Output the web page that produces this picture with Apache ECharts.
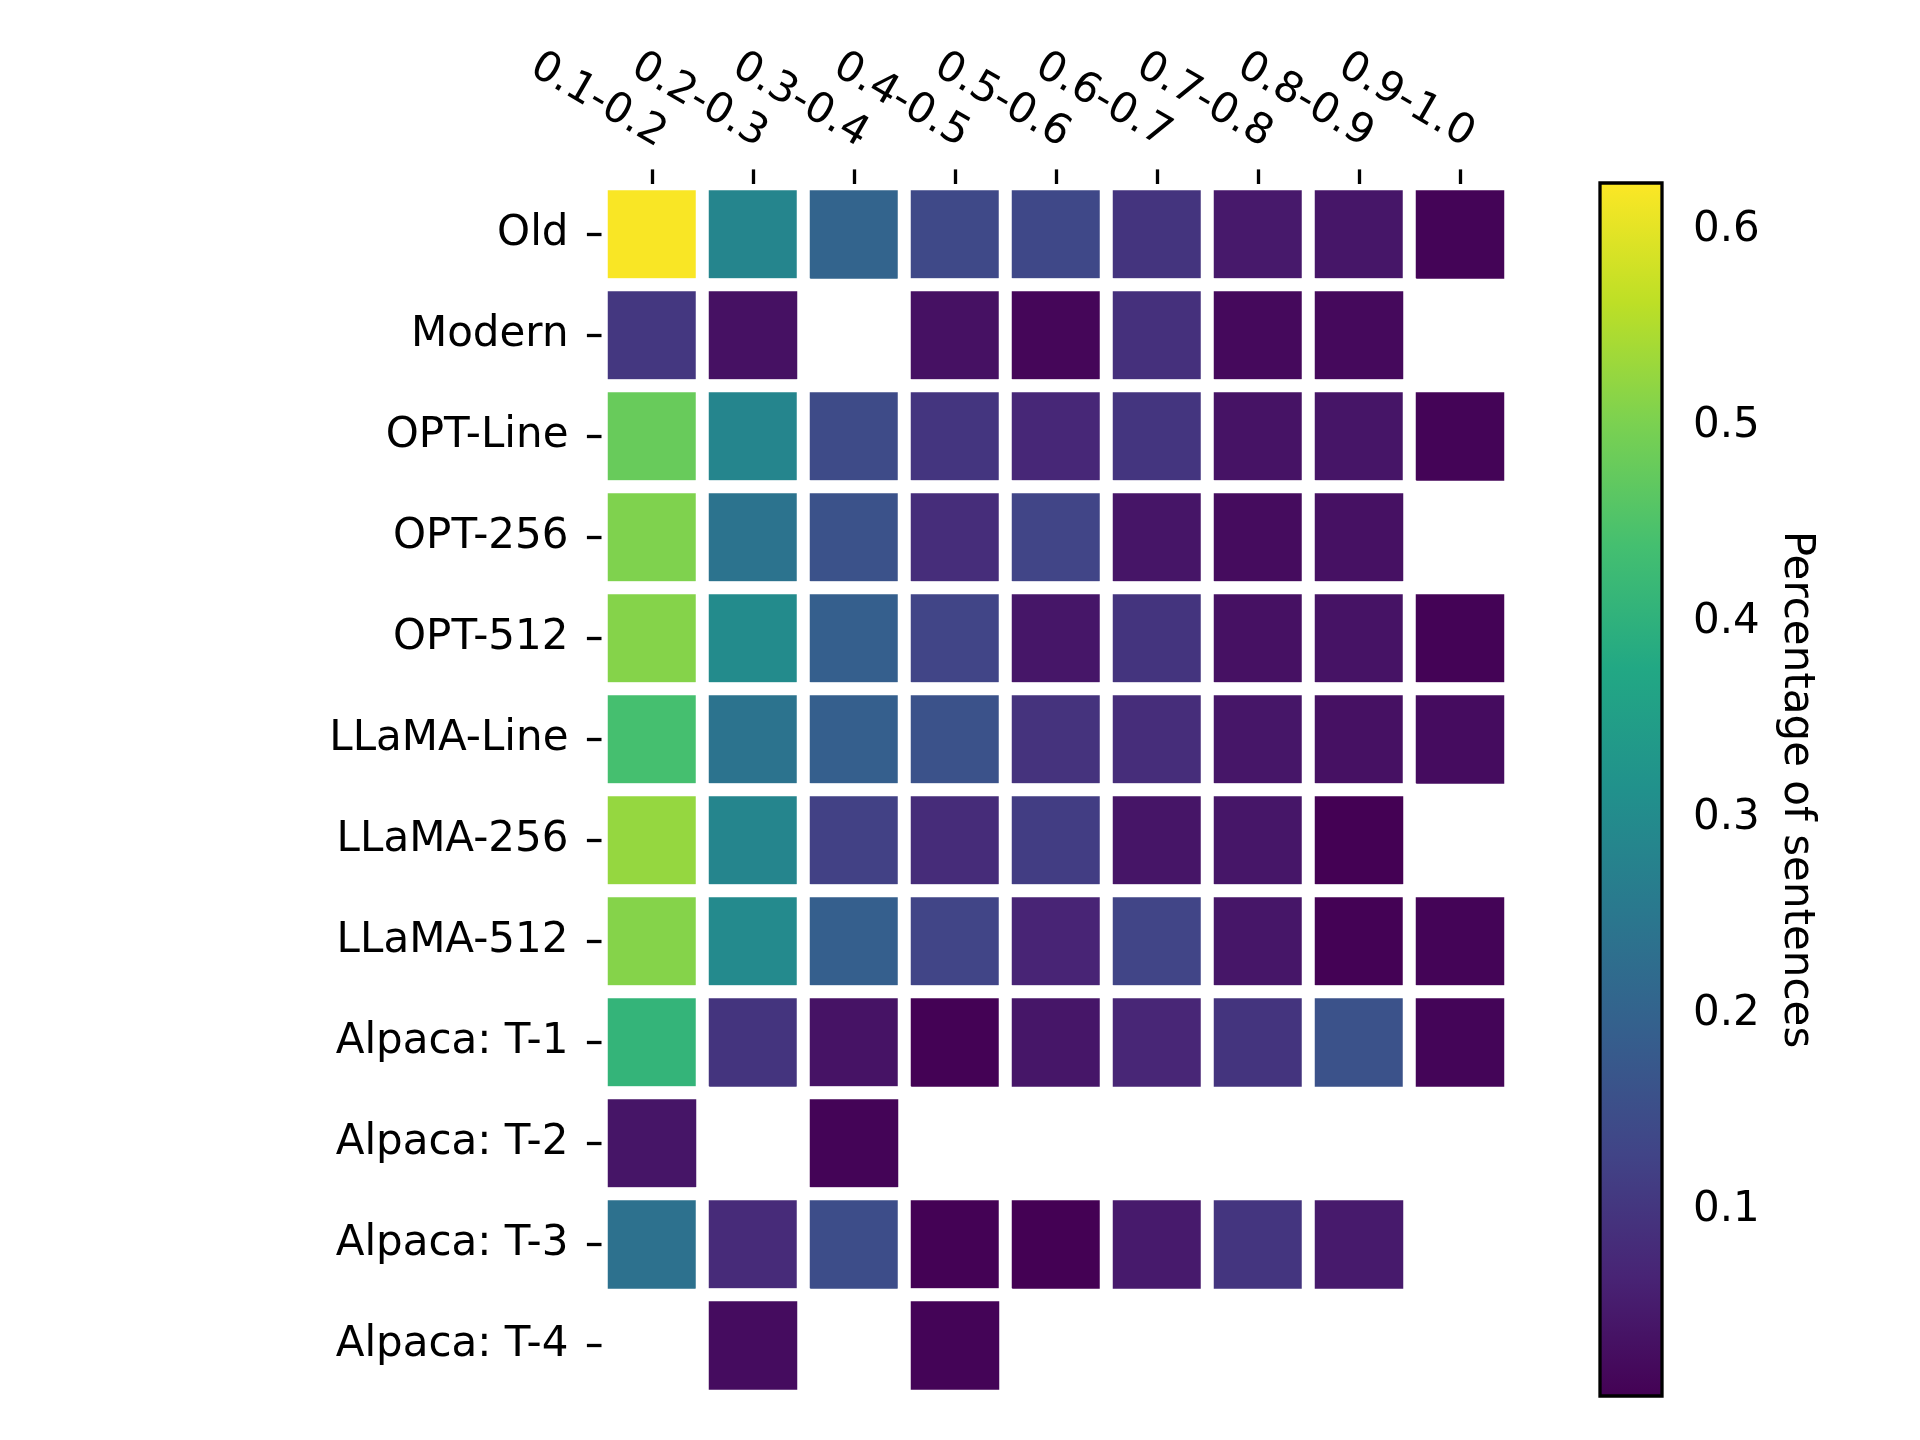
<!DOCTYPE html>
<html>
<head>
<meta charset="utf-8">
<script src="https://cdn.jsdelivr.net/npm/echarts@6/dist/echarts.min.js"></script>
<style>
  html, body { margin: 0; padding: 0; background: #fff; }
  #chart { width: 1920px; height: 1440px; }
</style>
</head>
<body>
<div id="chart"></div>
<script>
// bins along the top
var bins = ['0.1-0.2', '0.2-0.3', '0.3-0.4', '0.4-0.5', '0.5-0.6', '0.6-0.7', '0.7-0.8', '0.8-0.9', '0.9-1.0'];
// rows, top to bottom
var sources = ['Old', 'Modern', 'OPT-Line', 'OPT-256', 'OPT-512', 'LLaMA-Line', 'LLaMA-256', 'LLaMA-512',
    'Alpaca: T-1', 'Alpaca: T-2', 'Alpaca: T-3', 'Alpaca: T-4'];

// share of sentences per bin (null = empty cell)
var oldRow       = [0.620, 0.284, 0.203, 0.141, 0.138, 0.098, 0.048, 0.042, 0.010];
var modernRow    = [0.104, 0.033, null,  0.033, 0.014, 0.090, 0.020, 0.020, null];
var optLineRow   = [0.480, 0.284, 0.144, 0.100, 0.073, 0.100, 0.036, 0.040, 0.011];
var opt256Row    = [0.505, 0.240, 0.160, 0.085, 0.130, 0.040, 0.024, 0.033, null];
var opt512Row    = [0.510, 0.300, 0.190, 0.130, 0.042, 0.098, 0.033, 0.036, 0.008];
var llamaLineRow = [0.440, 0.240, 0.190, 0.160, 0.095, 0.085, 0.042, 0.033, 0.025];
var llama256Row  = [0.525, 0.284, 0.123, 0.082, 0.116, 0.040, 0.042, 0.005, null];
var llama512Row  = [0.510, 0.296, 0.190, 0.130, 0.067, 0.130, 0.042, 0.006, 0.010];
var alpacaT1Row  = [0.410, 0.098, 0.036, 0.007, 0.042, 0.070, 0.098, 0.160, 0.012];
var alpacaT2Row  = [0.040, null,  0.010, null,  null,  null,  null,  null,  null];
var alpacaT3Row  = [0.235, 0.080, 0.150, 0.006, 0.005, 0.050, 0.100, 0.050, null];
var alpacaT4Row  = [null,  0.025, null,  0.010, null,  null,  null,  null,  null];

var rows = [oldRow, modernRow, optLineRow, opt256Row, opt512Row, llamaLineRow, llama256Row, llama512Row,
    alpacaT1Row, alpacaT2Row, alpacaT3Row, alpacaT4Row];

// colour scale range and colorbar ticks
var vmin = 0.005;
var vmax = 0.624;
var cbTicks = [0.1, 0.2, 0.3, 0.4, 0.5, 0.6];

var viridis = ['#440154', '#482475', '#414487', '#355f8d', '#2a788e', '#21918c',
    '#22a884', '#44bf70', '#7ad151', '#bddf26', '#fde725'];

var cells = [];
rows.forEach(function (row, j) {
    row.forEach(function (v, i) {
        if (v !== null) cells.push([i, j, v]);
    });
});

var font = 'DejaVu Sans';
var tickStyle = { color: '#000', width: 3.3 };

var chart = echarts.init(document.getElementById('chart'), null, { renderer: 'canvas' });

var option = {
    backgroundColor: '#fff',
    animation: false,
    textStyle: { fontFamily: font },
    grid: [
        { left: 601.5, top: 184, width: 909, height: 1212 },
        { left: 1600, top: 183, width: 62, height: 1213 }
    ],
    xAxis: [
        {
            type: 'category',
            gridIndex: 0,
            position: 'top',
            data: bins,
            axisLine: { show: false },
            axisTick: { show: true, alignWithLabel: true, length: 14.6, lineStyle: tickStyle },
            axisLabel: {
                rotate: 30, fontSize: 42, color: '#000', fontFamily: font,
                margin: 28, interval: 0, verticalAlign: 'bottom'
            },
            splitLine: { show: false }
        },
        {
            type: 'value',
            gridIndex: 1,
            min: 0,
            max: 1,
            show: false
        }
    ],
    yAxis: [
        {
            type: 'category',
            gridIndex: 0,
            inverse: true,
            data: sources,
            axisLine: { show: false },
            axisTick: { show: true, alignWithLabel: true, length: 14.6, lineStyle: tickStyle },
            axisLabel: { fontSize: 42, color: '#000', fontFamily: font, margin: 33, interval: 0 },
            splitLine: { show: false }
        },
        {
            type: 'value',
            gridIndex: 1,
            position: 'right',
            min: vmin,
            max: vmax,
            axisLine: { show: false },
            splitLine: { show: false },
            axisTick: { show: true, length: 14.6, lineStyle: tickStyle, customValues: cbTicks },
            axisLabel: {
                fontSize: 42, color: '#000', fontFamily: font, margin: 31,
                customValues: cbTicks,
                formatter: function (v) { return v.toFixed(1); }
            },
            name: 'Percentage of sentences',
            nameLocation: 'middle',
            nameRotate: -90,
            nameGap: 113,
            nameTextStyle: { fontSize: 42, color: '#000', fontFamily: font }
        }
    ],
    visualMap: {
        type: 'continuous',
        show: false,
        seriesIndex: 0,
        dimension: 2,
        min: vmin,
        max: vmax,
        inRange: { color: viridis }
    },
    series: [
        {
            type: 'heatmap',
            xAxisIndex: 0,
            yAxisIndex: 0,
            z: -1,
            data: cells,
            itemStyle: { borderColor: '#fff', borderWidth: 13 },
            emphasis: { disabled: true }
        },
        {
            // colorbar drawn on its own axis
            type: 'custom',
            xAxisIndex: 1,
            yAxisIndex: 1,
            clip: false,
            silent: true,
            data: [[0, vmin]],
            renderItem: function (params, api) {
                var p1 = api.coord([0, vmax]);
                var p2 = api.coord([1, vmin]);
                var stops = viridis.slice().reverse().map(function (c, k) {
                    return { offset: k / (viridis.length - 1), color: c };
                });
                return {
                    type: 'rect',
                    shape: { x: p1[0], y: p1[1], width: p2[0] - p1[0], height: p2[1] - p1[1] },
                    style: {
                        fill: new echarts.graphic.LinearGradient(0, 0, 0, 1, stops),
                        stroke: '#000',
                        lineWidth: 3.3
                    }
                };
            }
        }
    ]
};

chart.setOption(option);
</script>
</body>
</html>
